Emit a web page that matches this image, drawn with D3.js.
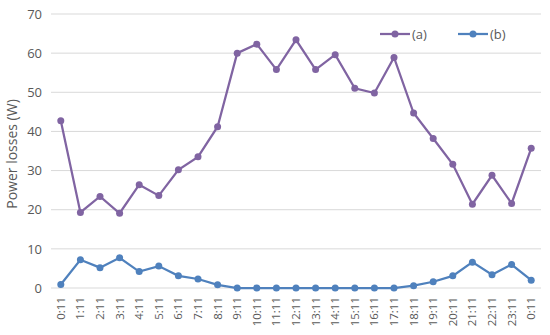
<!DOCTYPE html>
<html>
<head>
<meta charset="utf-8">
<script src="https://cdn.jsdelivr.net/npm/d3@7"></script>
<style>
body{margin:0;background:#fff;}
text{font-family:"Open Sans",sans-serif;}
</style>
</head>
<body>
<div id="chart"></div>
<script>
const hours=["0:11","1:11","2:11","3:11","4:11","5:11","6:11","7:11","8:11","9:11","10:11","11:11","12:11",
    "13:11","14:11","15:11","16:11","17:11","18:11","19:11","20:11","21:11","22:11","23:11","0:11 "];
const seriesA=[42.7,19.3,23.4,19.1,26.4,23.6,30.2,33.5,41.2,60.0,62.3,55.8,63.4,55.8,59.6,51.0,49.8,58.9,44.7,38.2,31.6,21.4,28.8,21.6,35.7];
const seriesB=[0.9,7.2,5.2,7.7,4.2,5.6,3.1,2.3,0.8,0,0,0,0,0,0,0,0,0,0.6,1.6,3.1,6.6,3.4,6.0,2.0];
const seriesNames=["(a)","(b)"];
const colors=["#8064A2","#4F81BD"];
const yTicks=[0,10,20,30,40,50,60,70];

const width=550,height=335;
const margin={top:14,right:9,bottom:47,left:51};

const svg=d3.select("#chart")
    .append("svg")
    .attr("width",width)
    .attr("height",height);

const x=d3.scaleBand()
    .domain(hours)
    .range([margin.left,width-margin.right]);

const y=d3.scaleLinear()
    .domain([0,70])
    .range([height-margin.bottom,margin.top]);

// gridlines
svg.append("g")
    .selectAll("line")
    .data(yTicks)
    .enter()
    .append("line")
    .attr("x1",margin.left)
    .attr("x2",width-margin.right)
    .attr("y1",d=>y(d))
    .attr("y2",d=>y(d))
    .attr("stroke","#D9D9D9")
    .attr("stroke-width",1);

// y axis labels
const yAxis=svg.append("g")
    .attr("transform",`translate(${margin.left},0)`)
    .call(d3.axisLeft(y).tickValues(yTicks).tickSize(0).tickPadding(9));
yAxis.select(".domain").remove();
yAxis.selectAll("text")
    .attr("fill","#595959")
    .style("font-size","13px");

// x axis labels
const xAxis=svg.append("g")
    .attr("transform",`translate(0,${y(0)})`)
    .call(d3.axisBottom(x).tickSize(0));
xAxis.select(".domain").remove();
xAxis.selectAll("text")
    .attr("fill","#595959")
    .style("font-size","11.5px")
    .attr("text-anchor","end")
    .attr("transform","rotate(-90)")
    .attr("x",-9)
    .attr("y",0)
    .attr("dy","0.35em");

svg.append("text")
    .attr("transform",`translate(17,${(margin.top+y(0))/2+3}) rotate(-90)`)
    .attr("text-anchor","middle")
    .attr("fill","#595959")
    .style("font-size","14px")
    .text("Power losses (W)");

const line=d3.line()
    .x((d,i)=>x(hours[i])+x.bandwidth()/2)
    .y(d=>y(d));

[seriesA,seriesB].forEach((s,k)=>{
    svg.append("path")
        .datum(s)
        .attr("d",line)
        .attr("fill","none")
        .attr("stroke",colors[k])
        .attr("stroke-width",2.25);
    svg.append("g")
        .selectAll("circle")
        .data(s)
        .enter()
        .append("circle")
        .attr("cx",(d,i)=>x(hours[i])+x.bandwidth()/2)
        .attr("cy",d=>y(d))
        .attr("r",3.5)
        .attr("fill",colors[k]);
});

// legend
const legend=svg.append("g")
    .selectAll("g")
    .data(seriesNames)
    .enter()
    .append("g")
    .attr("transform",(d,i)=>`translate(${380+i*78},34)`);
legend.append("line")
    .attr("x1",0).attr("x2",30)
    .attr("stroke",(d,i)=>colors[i])
    .attr("stroke-width",2.25);
legend.append("circle")
    .attr("cx",15).attr("r",3.5)
    .attr("fill",(d,i)=>colors[i]);
legend.append("text")
    .attr("x",32)
    .attr("dy","0.35em")
    .attr("fill","#595959")
    .style("font-size","13px")
    .text(d=>d);
</script>
</body>
</html>
